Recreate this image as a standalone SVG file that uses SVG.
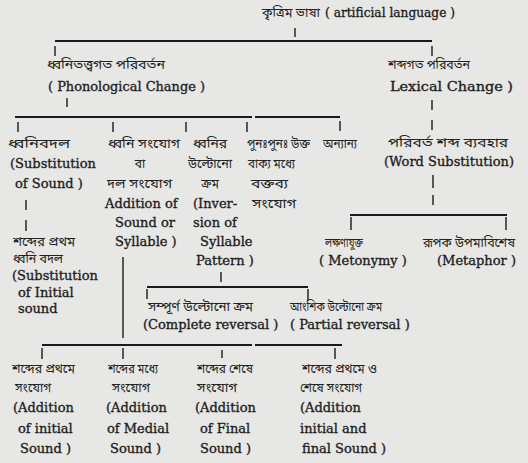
<svg xmlns="http://www.w3.org/2000/svg" width="528" height="463" viewBox="0 0 528 463">
<style>
.bg{fill:#e7e7e5}
.en{font-family:"DejaVu Serif","Liberation Serif",serif;font-size:13px;fill:#1e1e1e;stroke:#1e1e1e;stroke-width:0.35}
.bn{font-family:"Noto Sans Bengali","Lohit Bengali","Noto Serif Bengali","Noto Sans",sans-serif;font-size:12px;fill:#222}
.h{stroke:#1a1a1a;stroke-width:2;fill:none}
.t{stroke:#1a1a1a;stroke-width:1.4;fill:none}
</style>
<rect class="bg" x="0" y="0" width="528" height="463"/>
<g id="connectors">
<path class="t" d="M295 28V37"/>
<path class="h" d="M55 41H432"/>
<path class="t" d="M55 46V56M432 46V56"/>
<path class="t" d="M67 98V107"/>
<path class="h" d="M15 117H252M255 117H340"/>
<path class="t" d="M18 122V132M113 122V132M186 122V132M247 122V132M340 121V131"/>
<path class="t" d="M432 100V110M432 120V130"/>
<path class="t" d="M433 175V188M433 195V205"/>
<path class="h" d="M350 215H507"/>
<path class="t" d="M351 217V230M506 217V230"/>
<path class="t" d="M26 200V210M26 220V231"/>
<path class="t" d="M123 257V338"/>
<path class="t" d="M221 272V282"/>
<path class="h" d="M147 287H308"/>
<path class="t" d="M147 289V299M308 289V301"/>
<path class="h" d="M42 345H252M255 345H342"/>
<path class="t" d="M42 348V359M123 348V359M222 350V358M335 348V359"/>
</g>
<g id="n-root"><text class="bn" x="262" y="17" textLength="58" lengthAdjust="spacingAndGlyphs">কৃত্রিম ভাষা</text><text class="en" x="325" y="17" font-size="12.5" textLength="130" lengthAdjust="spacingAndGlyphs">( artificial language )</text></g>
<g id="n-phon"><text class="bn" x="47" y="69" textLength="118" lengthAdjust="spacingAndGlyphs">ধ্বনিতত্ত্বগত পরিবর্তন</text><text class="en" x="48" y="91" textLength="157" lengthAdjust="spacingAndGlyphs">( Phonological Change )</text></g>
<g id="n-lex"><text class="bn" x="388" y="69" textLength="82" lengthAdjust="spacingAndGlyphs">শব্দগত পরিবর্তন</text><text class="en" x="390" y="91" textLength="123" lengthAdjust="spacingAndGlyphs">Lexical Change )</text></g>
<g id="n-subsound"><text class="bn" x="8" y="148" textLength="62" lengthAdjust="spacingAndGlyphs">ধ্বনিবদল</text><text class="en" x="10" y="168">(Substitution</text><text class="en" x="15" y="188">of Sound )</text></g>
<g id="n-addition"><text class="bn" x="108" y="148" textLength="72" lengthAdjust="spacingAndGlyphs">ধ্বনি সংযোগ</text><text class="bn" x="140" y="168" text-anchor="middle">বা</text><text class="bn" x="107" y="188" textLength="65" lengthAdjust="spacingAndGlyphs">দল সংযোগ</text><text class="en" x="105" y="208">Addition of</text><text class="en" x="115" y="227">Sound or</text><text class="en" x="115" y="246">Syllable )</text></g>
<g id="n-inversion"><text class="bn" x="193" y="148" textLength="34" lengthAdjust="spacingAndGlyphs">ধ্বনির</text><text class="bn" x="188" y="168" textLength="44" lengthAdjust="spacingAndGlyphs">উল্টোনো</text><text class="bn" x="210" y="188" text-anchor="middle">ক্রম</text><text class="en" x="193" y="208">(Inver-</text><text class="en" x="193" y="227">sion of</text><text class="en" x="200" y="246">Syllable</text><text class="en" x="196" y="265">Pattern )</text></g>
<g id="n-repeat"><text class="bn" x="247" y="148" textLength="63" lengthAdjust="spacingAndGlyphs">পুনঃপুনঃ উক্ত</text><text class="bn" x="248" y="168" textLength="47" lengthAdjust="spacingAndGlyphs">বাক্য মধ্যে</text><text class="bn" x="251" y="188" textLength="37" lengthAdjust="spacingAndGlyphs">বক্তব্য</text><text class="bn" x="252" y="208" textLength="44" lengthAdjust="spacingAndGlyphs">সংযোগ</text></g>
<g id="n-other"><text class="bn" x="323" y="148" textLength="34" lengthAdjust="spacingAndGlyphs">অন্যান্য</text></g>
<g id="n-wordsub"><text class="bn" x="388" y="147" textLength="120" lengthAdjust="spacingAndGlyphs">পরিবর্ত শব্দ ব্যবহার</text><text class="en" x="384" y="166">(Word Substitution)</text></g>
<g id="n-initialsub"><text class="bn" x="13" y="246" textLength="62" lengthAdjust="spacingAndGlyphs">শব্দের প্রথম</text><text class="bn" x="13" y="263" textLength="50" lengthAdjust="spacingAndGlyphs">ধ্বনি বদল</text><text class="en" x="12" y="280">(Substitution</text><text class="en" x="18" y="297">of Initial</text><text class="en" x="18" y="313">sound</text></g>
<g id="n-metonymy"><text class="bn" x="325" y="247" textLength="38" lengthAdjust="spacingAndGlyphs">লক্ষণাযুক্ত</text><text class="en" x="319" y="265">( Metonymy )</text></g>
<g id="n-metaphor"><text class="bn" x="423" y="247" textLength="92" lengthAdjust="spacingAndGlyphs">রূপক উপমাবিশেষ</text><text class="en" x="437" y="265">(Metaphor )</text></g>
<g id="n-complete"><text class="bn" x="148" y="311" textLength="105" lengthAdjust="spacingAndGlyphs">সম্পূর্ণ উল্টোনো ক্রম</text><text class="en" x="143" y="329">(Complete reversal )</text></g>
<g id="n-partial"><text class="bn" x="290" y="311" textLength="92" lengthAdjust="spacingAndGlyphs">আংশিক উল্টোনো ক্রম</text><text class="en" x="290" y="329">( Partial reversal )</text></g>
<g id="n-addinitial"><text class="bn" x="12" y="373" textLength="63" lengthAdjust="spacingAndGlyphs">শব্দের প্রথমে</text><text class="bn" x="15" y="392" textLength="36" lengthAdjust="spacingAndGlyphs">সংযোগ</text><text class="en" x="13" y="412">(Addition</text><text class="en" x="18" y="433">of initial</text><text class="en" x="20" y="453">Sound )</text></g>
<g id="n-addmedial"><text class="bn" x="108" y="373" textLength="50" lengthAdjust="spacingAndGlyphs">শব্দের মধ্যে</text><text class="bn" x="112" y="392" textLength="38" lengthAdjust="spacingAndGlyphs">সংযোগ</text><text class="en" x="106" y="412">(Addition</text><text class="en" x="107" y="433">of Medial</text><text class="en" x="110" y="453">Sound )</text></g>
<g id="n-addfinal"><text class="bn" x="197" y="373" textLength="56" lengthAdjust="spacingAndGlyphs">শব্দের শেষে</text><text class="bn" x="197" y="392" textLength="40" lengthAdjust="spacingAndGlyphs">সংযোগ</text><text class="en" x="195" y="412">(Addition</text><text class="en" x="200" y="433">of Final</text><text class="en" x="200" y="453">Sound )</text></g>
<g id="n-addboth"><text class="bn" x="302" y="373" textLength="75" lengthAdjust="spacingAndGlyphs">শব্দের প্রথমে ও</text><text class="bn" x="300" y="392" textLength="62" lengthAdjust="spacingAndGlyphs">শেষে সংযোগ</text><text class="en" x="300" y="412">(Addition</text><text class="en" x="300" y="433">initial and</text><text class="en" x="302" y="453">final Sound )</text></g>
</svg>
